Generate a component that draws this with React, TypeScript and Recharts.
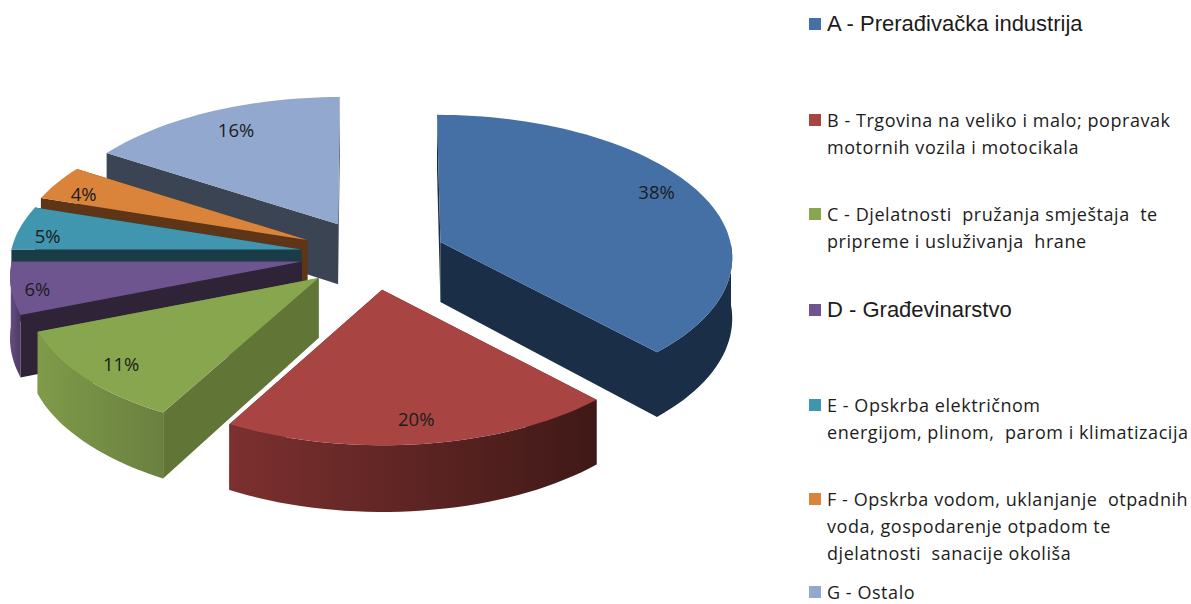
import React from "react";
import { PieChart, Pie, Legend } from "recharts";

// ---- data, top-to-bottom as in the legend
const categories = ["A", "B", "C", "D", "E", "F", "G"];
const shares = [38, 20, 11, 6, 5, 4, 16];
const legendLines = [
  ["A - Prerađivačka industrija"],
  ["B - Trgovina na veliko i malo; popravak", "motornih vozila i motocikala"],
  ["C - Djelatnosti  pružanja smještaja  te", "pripreme i usluživanja  hrane"],
  ["D - Građevinarstvo"],
  ["E - Opskrba električnom", "energijom, plinom,  parom i klimatizacija"],
  ["F - Opskrba vodom, uklanjanje  otpadnih", "voda, gospodarenje otpadom te", "djelatnosti  sanacije okoliša"],
  ["G - Ostalo"],
];
const topColors = ["#4470a5", "#a84442", "#88a64e", "#6f5590", "#3f96ae", "#da833a", "#92a8cf"];
const faceColors = ["#1b2e47", "#45191a", "#617537", "#2f2338", "#1a3c47", "#5f3517", "#3b4453"];
const wallLeft = ["#1b2e47", "#7c302f", "#7f9b48", "#674e85", "#34808f", "#c0702f", "#3b4453"];
const wallRight = ["#1b2e47", "#3f1917", "#6a8040", "#4c3a62", "#256070", "#8a5020", "#3b4453"];

// ---- layout of the legend and the percentage labels
const legendTops = [16, 112, 206, 302, 397, 491, 584];
const legendBig = [true, false, false, true, false, false, false];
const labelRadius = [0.83, 0.85, 0.85, 0.91, 0.9, 0.89, 0.79];
const labelShiftY = [-9, 0, 2, 3, 5, 5, -4];

// ---- 3D look
const SQUASH = 140 / 290;
const PERSPECTIVE = 0.1;
const EXPLODE = 0.25;
const DEPTH = 60;

const tableData = categories
  .map((name, i) => ({
    name,
    index: i,
    value: shares[i],
    top: topColors[i],
    face: faceColors[i],
    wl: wallLeft[i],
    wr: wallRight[i],
  }))
  .reverse();

const RAD = Math.PI / 180;

// a point of a slice: its exploded apex plus the perspective-squashed offset on the rim
function pointOf(cx: number, cy: number, mid: number, angle: number, r: number, R: number) {
  const um = Math.cos(mid * RAD);
  const vm = -Math.sin(mid * RAD);
  const u = Math.cos(angle * RAD);
  const v = -Math.sin(angle * RAD) * r;
  const s = 1 / (1 - PERSPECTIVE * v);
  const lean = 1 + 0.5 * PERSPECTIVE * v;
  return {
    x: cx + um * EXPLODE * R * lean + u * r * R * s,
    y: cy + vm * EXPLODE * R * SQUASH + v * R * SQUASH * s,
    s,
    front: v >= 0,
  };
}

const pts = (list: { x: number; y: number }[]) =>
  "M" + list.map((p) => `${p.x.toFixed(1)},${p.y.toFixed(1)}`).join("L") + "Z";

function Slice3D(props: any) {
  const { cx, cy, startAngle, endAngle, outerRadius, payload } = props;
  const R = outerRadius;
  const mid = (startAngle + endAngle) / 2;
  const a = pointOf(cx, cy, mid, mid, 0, R);
  const arc: ReturnType<typeof pointOf>[] = [];
  const steps = Math.max(8, Math.ceil(Math.abs(endAngle - startAngle) / 2));
  for (let i = 0; i <= steps; i++) {
    const t = startAngle + ((endAngle - startAngle) * i) / steps;
    arc.push(pointOf(cx, cy, mid, t, 1, R));
  }
  const down = (p: { x: number; y: number; s: number }) => ({ x: p.x, y: p.y + DEPTH * p.s, s: p.s });
  const first = arc[0];
  const last = arc[arc.length - 1];
  const wallArc = arc.filter((p) => p.front);
  const gid = `wall-${payload.name}`;
  return (
    <g>
      <defs>
        <linearGradient id={gid} x1="0" y1="0" x2="1" y2="0">
          <stop offset="0" stopColor={payload.wl} />
          <stop offset="1" stopColor={payload.wr} />
        </linearGradient>
      </defs>
      <path d={pts([a, first, down(first), down(a)])} fill={payload.face} />
      <path d={pts([a, last, down(last), down(a)])} fill={payload.face} />
      {wallArc.length > 1 && <path d={pts([...wallArc, ...wallArc.map(down).reverse()])} fill={`url(#${gid})`} />}
      <path d={pts([a, ...arc])} fill={payload.top} />
    </g>
  );
}

function SliceLabel(props: any) {
  const { cx, cy, midAngle, outerRadius, value, payload } = props;
  const i = payload.index;
  const p = pointOf(cx, cy, midAngle, midAngle, labelRadius[i], outerRadius);
  return (
    <text
      x={p.x}
      y={p.y + labelShiftY[i]}
      textAnchor="middle"
      dominantBaseline="central"
      fontFamily="'Open Sans', sans-serif"
      fontSize={18.5}
      fill="#1c1c1c"
    >
      {value}%
    </text>
  );
}

function LegendBlock() {
  return (
    <div style={{ position: "relative", width: 1191, height: 604 }}>
      {legendLines.map((lines, i) => (
        <div key={i} style={{ position: "absolute", left: 0, top: legendTops[i] }}>
          <div
            style={{
              position: "absolute",
              left: 809,
              top: 2,
              width: 12,
              height: 12,
              background: topColors[i],
            }}
          />
          {lines.map((line, j) => (
            <div
              key={j}
              style={{
                position: "absolute",
                left: 827,
                top: j * 27,
                whiteSpace: "pre",
                lineHeight: "16px",
                fontFamily: legendBig[i] ? "'Liberation Sans', Arial, sans-serif" : "'Open Sans', sans-serif",
                fontSize: legendBig[i] ? 22 : 18,
                letterSpacing: legendBig[i] ? 0 : 0.55,
                color: "#1c1c1c",
              }}
            >
              {line}
            </div>
          ))}
        </div>
      ))}
    </div>
  );
}

export default function App() {
  return (
    <div style={{ position: "absolute", left: 0, top: 0, width: 1191, height: 604, background: "#fff" }}>
      <PieChart width={1191} height={604} margin={{ top: 0, right: 0, bottom: 0, left: 0 }}>
        <Pie
          data={tableData}
          dataKey="value"
          nameKey="name"
          cx={373}
          cy={255}
          innerRadius={0}
          outerRadius={290}
          startAngle={90}
          endAngle={450}
          stroke="none"
          isAnimationActive={false}
          shape={Slice3D}
          label={SliceLabel}
          labelLine={false}
        />
        <Legend
          content={LegendBlock}
          layout="vertical"
          wrapperStyle={{ position: "absolute", left: 0, top: 0, width: 1191, height: 604 }}
        />
      </PieChart>
    </div>
  );
}
